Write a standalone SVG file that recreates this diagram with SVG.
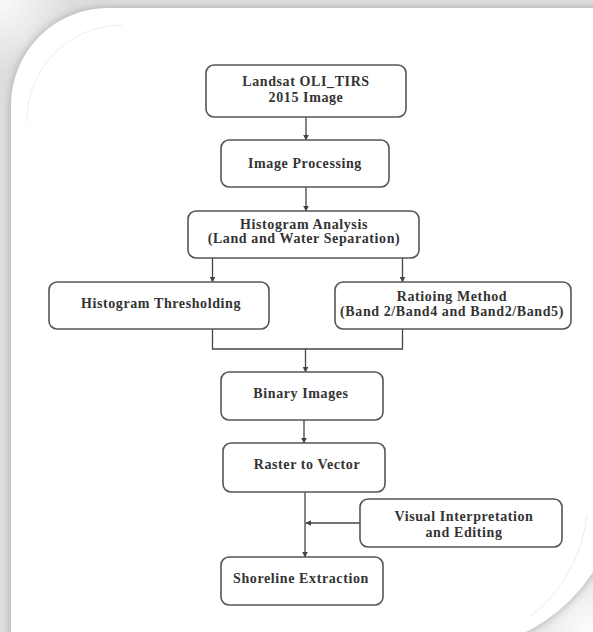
<svg xmlns="http://www.w3.org/2000/svg" width="593" height="632" viewBox="0 0 593 632">
<defs>
<style>
.box{fill:#fff;stroke:#555;stroke-width:1.6}
.t{font-family:"Liberation Serif","Times New Roman",serif;font-weight:bold;font-size:14px;fill:#333;text-anchor:middle;letter-spacing:0.6px}
.c{fill:none;stroke:#444;stroke-width:1.3}
</style>
<marker id="ah" viewBox="0 0 10 10" refX="9" refY="5" markerWidth="6" markerHeight="6" orient="auto" markerUnits="userSpaceOnUse">
<path d="M0,0 L10,5 L0,10 Z" fill="#444"/>
</marker>
<filter id="blur" x="-10%" y="-10%" width="120%" height="120%">
<feGaussianBlur stdDeviation="5"/>
</filter>
<radialGradient id="tl" cx="0" cy="0" r="70" gradientUnits="userSpaceOnUse">
<stop offset="0" stop-color="#fafafa"/>
<stop offset="1" stop-color="#fafafa" stop-opacity="0"/>
</radialGradient>
<radialGradient id="br" cx="593" cy="632" r="90" gradientUnits="userSpaceOnUse">
<stop offset="0" stop-color="#fdfdfd"/>
<stop offset="1" stop-color="#fdfdfd" stop-opacity="0"/>
</radialGradient>
</defs>
<rect x="0" y="0" width="593" height="632" fill="#dedede"/>
<rect x="0" y="0" width="593" height="632" fill="url(#tl)"/>
<rect x="0" y="0" width="593" height="632" fill="url(#br)"/>
<path d="M11,650 V105 A97,97 0 0 1 108,8 H620 V480 A170,170 0 0 1 450,650 Z" fill="#a8a8a8" filter="url(#blur)"/>
<path d="M11,650 V105 A97,97 0 0 1 108,8 H620 V480 A170,170 0 0 1 450,650 Z" fill="#fff"/>
<path d="M27,122 A95,95 0 0 1 122,25" fill="none" stroke="#ececec" stroke-width="1"/>
<path d="M587,515 A150,150 0 0 1 530,617" fill="none" stroke="#ececec" stroke-width="1"/>

<g id="connectors">
<line class="c" x1="306" y1="117" x2="306" y2="140" marker-end="url(#ah)"/>
<line class="c" x1="306" y1="187" x2="306" y2="211" marker-end="url(#ah)"/>
<line class="c" x1="212.5" y1="258" x2="212.5" y2="282" marker-end="url(#ah)"/>
<line class="c" x1="402.5" y1="258" x2="402.5" y2="282" marker-end="url(#ah)"/>
<path class="c" d="M212.5,329 V349 H402.5 V329"/>
<line class="c" x1="305.5" y1="349" x2="305.5" y2="372" marker-end="url(#ah)"/>
<line class="c" x1="304" y1="420" x2="304" y2="443" marker-end="url(#ah)"/>
<line class="c" x1="305" y1="492" x2="305" y2="557" marker-end="url(#ah)"/>
<line class="c" x1="360" y1="523" x2="306" y2="523" marker-end="url(#ah)"/>
</g>

<g id="landsat">
<rect class="box" x="206" y="65" width="200" height="52" rx="8"/>
<text class="t" x="306" y="86">Landsat OLI_TIRS</text>
<text class="t" x="306" y="102">2015 Image</text>
</g>
<g id="image-processing">
<rect class="box" x="221" y="140" width="168" height="47" rx="8"/>
<text class="t" x="305" y="168">Image Processing</text>
</g>
<g id="histogram-analysis">
<rect class="box" x="188" y="211" width="231" height="47" rx="8"/>
<text class="t" x="304" y="229">Histogram Analysis</text>
<text class="t" x="304" y="243">(Land and Water Separation)</text>
</g>
<g id="histogram-thresholding">
<rect class="box" x="49" y="282" width="220" height="47" rx="8"/>
<text class="t" x="161" y="308">Histogram Thresholding</text>
</g>
<g id="ratioing-method">
<rect class="box" x="335" y="282" width="236" height="47" rx="8"/>
<text class="t" x="452" y="301">Ratioing Method</text>
<text class="t" x="452" y="316">(Band 2/Band4 and Band2/Band5)</text>
</g>
<g id="binary-images">
<rect class="box" x="221" y="372" width="162" height="48" rx="8"/>
<text class="t" x="301" y="398">Binary Images</text>
</g>
<g id="raster-to-vector">
<rect class="box" x="223" y="443" width="162" height="49" rx="8"/>
<text class="t" x="307" y="469">Raster to Vector</text>
</g>
<g id="visual-interpretation">
<rect class="box" x="360" y="499" width="202" height="48" rx="8"/>
<text class="t" x="464" y="521">Visual Interpretation</text>
<text class="t" x="464" y="537">and Editing</text>
</g>
<g id="shoreline-extraction">
<rect class="box" x="221" y="557" width="162" height="48" rx="8"/>
<text class="t" x="301" y="583">Shoreline Extraction</text>
</g>
</svg>
